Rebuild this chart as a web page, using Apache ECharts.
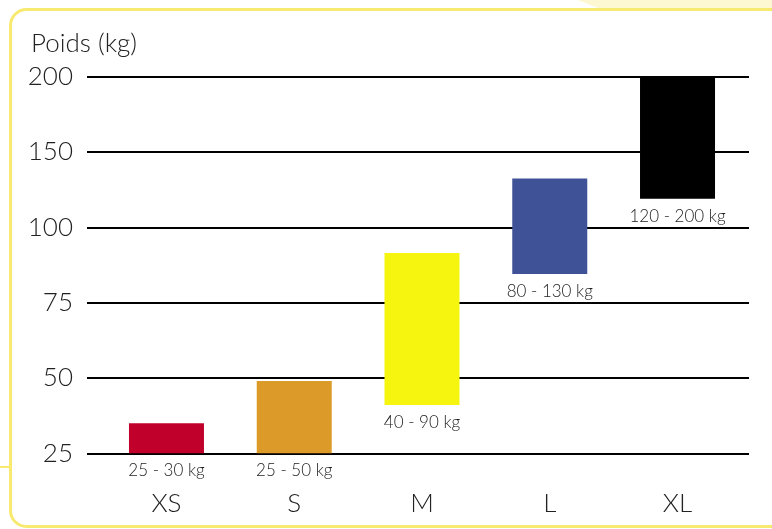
<!DOCTYPE html>
<html>
<head>
<meta charset="utf-8">
<script src="https://cdn.jsdelivr.net/npm/echarts@6/dist/echarts.min.js"></script>
<style>
  html, body { margin: 0; padding: 0; background: #fff; }
  #chart { width: 772px; height: 529px; }
</style>
</head>
<body>
<div id="chart"></div>
<script>
// tailles et plages de poids
const sizes = ['XS', 'S', 'M', 'L', 'XL']
const rangeLabels = ['25 - 30 kg', '25 - 50 kg', '40 - 90 kg', '80 - 130 kg', '120 - 200 kg']
// bornes telles que dessinées sur l'image (kg)
const lowKg = [25, 25, 41, 84.5, 119]
const highKg = [35, 49, 91.5, 132.5, 200]
const barColors = ['#c0002a', '#dc9b28', '#f6f50f', '#3f5297', '#000000']
// graduations de l'axe (espacées régulièrement)
const yTicks = [25, 50, 75, 100, 150, 200]

// échelle par morceaux : kg -> position sur l'axe
const toAxis = v => {
  for (let i = 1; i < yTicks.length; i++) {
    if (v <= yTicks[i]) {
      return i - 1 + (v - yTicks[i - 1]) / (yTicks[i] - yTicks[i - 1])
    }
  }
  return yTicks.length - 1
}

const font = 'Lato, "Open Sans", sans-serif'
const weight = 300
const textColor = '#222'
const cardColor = '#f8ea70'

const chart = echarts.init(document.getElementById('chart'))

const option = {
  animation: false,
  textStyle: { fontFamily: font },
  title: {
    text: 'Poids (kg)',
    left: 31,
    top: 31,
    padding: 0,
    textStyle: { fontFamily: font, fontSize: 26, fontWeight: weight, color: textColor }
  },
  graphic: [
    {
      type: 'polygon',
      z: -10,
      shape: { points: [[578, 0], [772, 0], [772, 8], [598, 8]] },
      style: { fill: '#fdf8d2' }
    },
    {
      type: 'rect',
      z: -9,
      shape: { x: 10.5, y: 9.5, width: 800, height: 517, r: 16 },
      style: { fill: '#fff', stroke: cardColor, lineWidth: 3 }
    },
    {
      type: 'line',
      z: -9,
      shape: { x1: 0, y1: 467, x2: 10, y2: 467 },
      style: { stroke: cardColor, lineWidth: 2 }
    }
  ],
  grid: [
    { left: 87, right: 23, top: 76.7, bottom: 75.7 },
    { left: 102.6, right: 30.6, top: 76.7, bottom: 75.7 }
  ],
  xAxis: [
    { type: 'category', gridIndex: 0, data: sizes, show: false },
    {
      type: 'category',
      gridIndex: 1,
      data: sizes,
      axisLine: { show: false },
      axisTick: { show: false },
      axisLabel: { fontFamily: font, fontSize: 26, fontWeight: weight, color: textColor, margin: 37 }
    }
  ],
  yAxis: [
    {
      type: 'value',
      gridIndex: 0,
      min: 0,
      max: yTicks.length - 1,
      interval: 1,
      axisLine: { show: false },
      axisTick: { show: false },
      axisLabel: {
        fontFamily: font,
        fontSize: 26,
        fontWeight: weight,
        color: textColor,
        margin: 14,
        formatter: v => yTicks[v]
      },
      splitLine: { lineStyle: { color: '#000', width: 2 } }
    },
    {
      type: 'value',
      gridIndex: 1,
      min: 0,
      max: yTicks.length - 1,
      interval: 1,
      show: false,
      splitLine: { show: false }
    }
  ],
  series: [
    {
      type: 'bar',
      xAxisIndex: 1,
      yAxisIndex: 1,
      stack: 'range',
      silent: true,
      barWidth: 75,
      itemStyle: { color: 'transparent' },
      data: lowKg.map(toAxis)
    },
    {
      type: 'bar',
      xAxisIndex: 1,
      yAxisIndex: 1,
      stack: 'range',
      barWidth: 75,
      data: highKg.map((h, i) => ({
        value: toAxis(h) - toAxis(lowKg[i]),
        itemStyle: { color: barColors[i] }
      })),
      label: {
        show: true,
        position: 'bottom',
        distance: 9,
        fontFamily: font,
        fontSize: 17,
        fontWeight: weight,
        color: textColor,
        formatter: p => rangeLabels[p.dataIndex]
      }
    }
  ]
}

chart.setOption(option)
</script>
</body>
</html>
